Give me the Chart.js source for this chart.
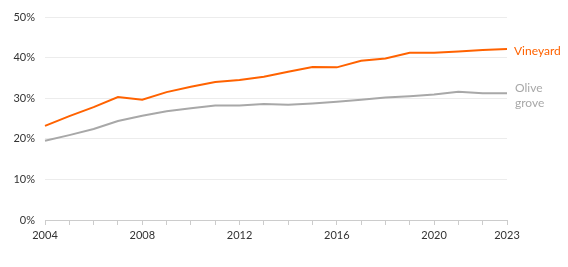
<!DOCTYPE html>
<html><head><meta charset="utf-8">
<script src="https://cdn.jsdelivr.net/npm/chart.js@4"></script>
<style>html,body{margin:0;padding:0;background:#fff}#c{display:block}</style>
</head><body>
<canvas id="c" width="568" height="267"></canvas>
<script>
const years = [2004,2005,2006,2007,2008,2009,2010,2011,2012,2013,2014,2015,2016,2017,2018,2019,2020,2021,2022,2023];
const vineyard = [23.2,25.6,27.8,30.3,29.6,31.5,32.8,34.0,34.5,35.3,36.5,37.7,37.6,39.2,39.8,41.2,41.2,41.5,41.9,42.1];
const olive = [19.5,20.9,22.4,24.4,25.7,26.8,27.5,28.2,28.2,28.6,28.4,28.7,29.1,29.6,30.2,30.5,30.9,31.6,31.2,31.2];
const shownYears = [2004,2008,2012,2016,2020,2023];
const yTicks = [0,10,20,30,40,50];
const FONT = "Lato, 'Noto Sans', sans-serif";

const endLabels = {
  id:'endLabels',
  afterDatasetsDraw(chart){
    const ctx = chart.ctx;
    const x = chart.scales.x.getPixelForValue(years.length-1);
    ctx.save();
    ctx.font = "12px " + FONT;
    ctx.textBaseline = 'middle';
    ctx.textAlign = 'left';
    ctx.fillStyle = '#FF6200';
    ctx.fillText('Vineyard', x+7, chart.scales.y.getPixelForValue(vineyard[vineyard.length-1]) + 2);
    ctx.fillStyle = '#A8A8A8';
    const yo = chart.scales.y.getPixelForValue(olive[olive.length-1]);
    ctx.fillText('Olive', x+8, yo-5.5);
    ctx.fillText('grove', x+8, yo+9.5);
    ctx.restore();
  }
};

new Chart(document.getElementById('c'), {
  type:'line',
  data:{
    labels: years.map(String),
    datasets:[
      {label:'Vineyard', data:vineyard, borderColor:'#FF6200', borderWidth:2, pointRadius:0, tension:0},
      {label:'Olive grove', data:olive, borderColor:'#A8A8A8', borderWidth:2, pointRadius:0, tension:0}
    ]
  },
  options:{
    responsive:false, animation:false,
    layout:{padding:{top:17,right:61,left:0,bottom:0}},
    plugins:{legend:{display:false}, tooltip:{enabled:false}},
    scales:{
      x:{
        offset:false,
        grid:{drawOnChartArea:false, drawTicks:true, tickLength:5, color:'#cccccc'},
        border:{display:true, color:'#cccccc'},
        ticks:{autoSkip:false, maxRotation:0, padding:4, color:'#333', font:{family:FONT,size:11},
          callback:function(v,i){ return shownYears.includes(years[i]) ? String(years[i]) : ''; }},
        afterFit(s){ s.height = 47; }
      },
      y:{
        min:0, max:50,
        afterBuildTicks(s){ s.ticks = yTicks.map(v=>({value:v})); },
        grid:{color:'#ececec', drawTicks:false},
        border:{display:false},
        ticks:{padding:10, color:'#333', font:{family:FONT,size:11}, callback:v=>v+'%'},
        afterFit(s){ s.width = 45; }
      }
    }
  },
  plugins:[endLabels]
});
</script>
</body></html>
